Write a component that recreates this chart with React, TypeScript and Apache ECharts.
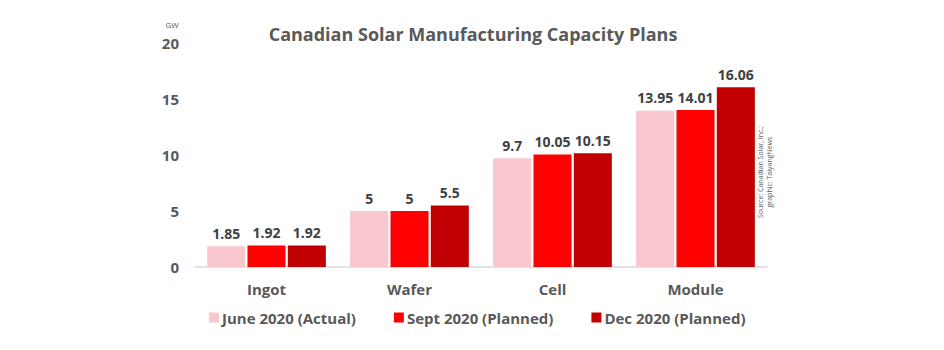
import React, { useEffect, useRef } from "react";
import * as echarts from "echarts";

const categories = ["Ingot", "Wafer", "Cell", "Module"];
const seriesNames = ["June 2020 (Actual)", "Sept 2020 (Planned)", "Dec 2020 (Planned)"];
const june = [1.85, 5, 9.7, 13.95];
const sept = [1.92, 5, 10.05, 14.01];
const dec = [1.92, 5.5, 10.15, 16.06];
const colors = ["#F9C8CF", "#FF0000", "#C00000"];

const FONT = "'Open Sans', sans-serif";

export default function App() {
  const ref = useRef<HTMLDivElement>(null);
  useEffect(() => {
    const chart = echarts.init(ref.current!, null, { renderer: "svg" });
    const data = [june, sept, dec];
    chart.setOption({
      animation: false,
      title: {
        text: "Canadian Solar Manufacturing Capacity Plans",
        left: 468,
        textAlign: "center",
        top: 20,
        textStyle: { fontFamily: FONT, fontWeight: "bold", fontSize: 18, color: "#595959" },
      },
      legend: {
        bottom: 20,
        left: 204,
        itemWidth: 10,
        itemHeight: 10,
        itemGap: 38,
        icon: "rect",
        textStyle: { fontFamily: FONT, fontWeight: "bold", fontSize: 15, color: "#595959", padding: [0, 0, 0, -2] },
        data: seriesNames,
      },
      grid: { left: 195, right: 177, top: 43, bottom: 83, containLabel: false },
      xAxis: {
        type: "category",
        data: categories,
        axisLine: { lineStyle: { color: "#D9D9D9", width: 1.5 } },
        axisTick: { show: false },
        axisLabel: { fontFamily: FONT, fontWeight: "bold", fontSize: 15, color: "#595959", margin: 14 },
      },
      yAxis: {
        type: "value",
        min: 0,
        max: 20,
        interval: 5,
        splitLine: { show: false },
        axisLine: { show: false },
        axisTick: { show: false },
        axisLabel: { fontFamily: FONT, fontWeight: "bold", fontSize: 15, color: "#595959", margin: 16 },
      },
      series: seriesNames.map((name, i) => ({
        name,
        type: "bar",
        data: data[i],
        barGap: "6%",
        barCategoryGap: "17%",
        itemStyle: { color: colors[i] },
        label: {
          show: true,
          position: "top",
          distance: 6,
          fontFamily: FONT,
          fontWeight: "bold",
          fontSize: 14,
          color: "#404040",
        },
      })),
      graphic: [
        {
          type: "text",
          x: 172,
          y: 24,
          style: {
            text: "GW",
            fontFamily: FONT,
            fontSize: 8,
            fill: "#595959",
            align: "center",
            verticalAlign: "middle",
          },
        },
        {
          type: "text",
          x: 765,
          y: 172,
          rotation: Math.PI / 2,
          style: {
            text: "Source: Canadian Solar, Inc.;\ngraphic: TaiyangNews",
            fontFamily: FONT,
            fontSize: 7,
            fill: "#595959",
            align: "center",
            verticalAlign: "middle",
            lineHeight: 9,
          },
        },
      ],
    });
    return () => chart.dispose();
  }, []);
  return <div ref={ref} style={{ position: "absolute", left: 0, top: 0, width: 944, height: 350 }} />;
}
